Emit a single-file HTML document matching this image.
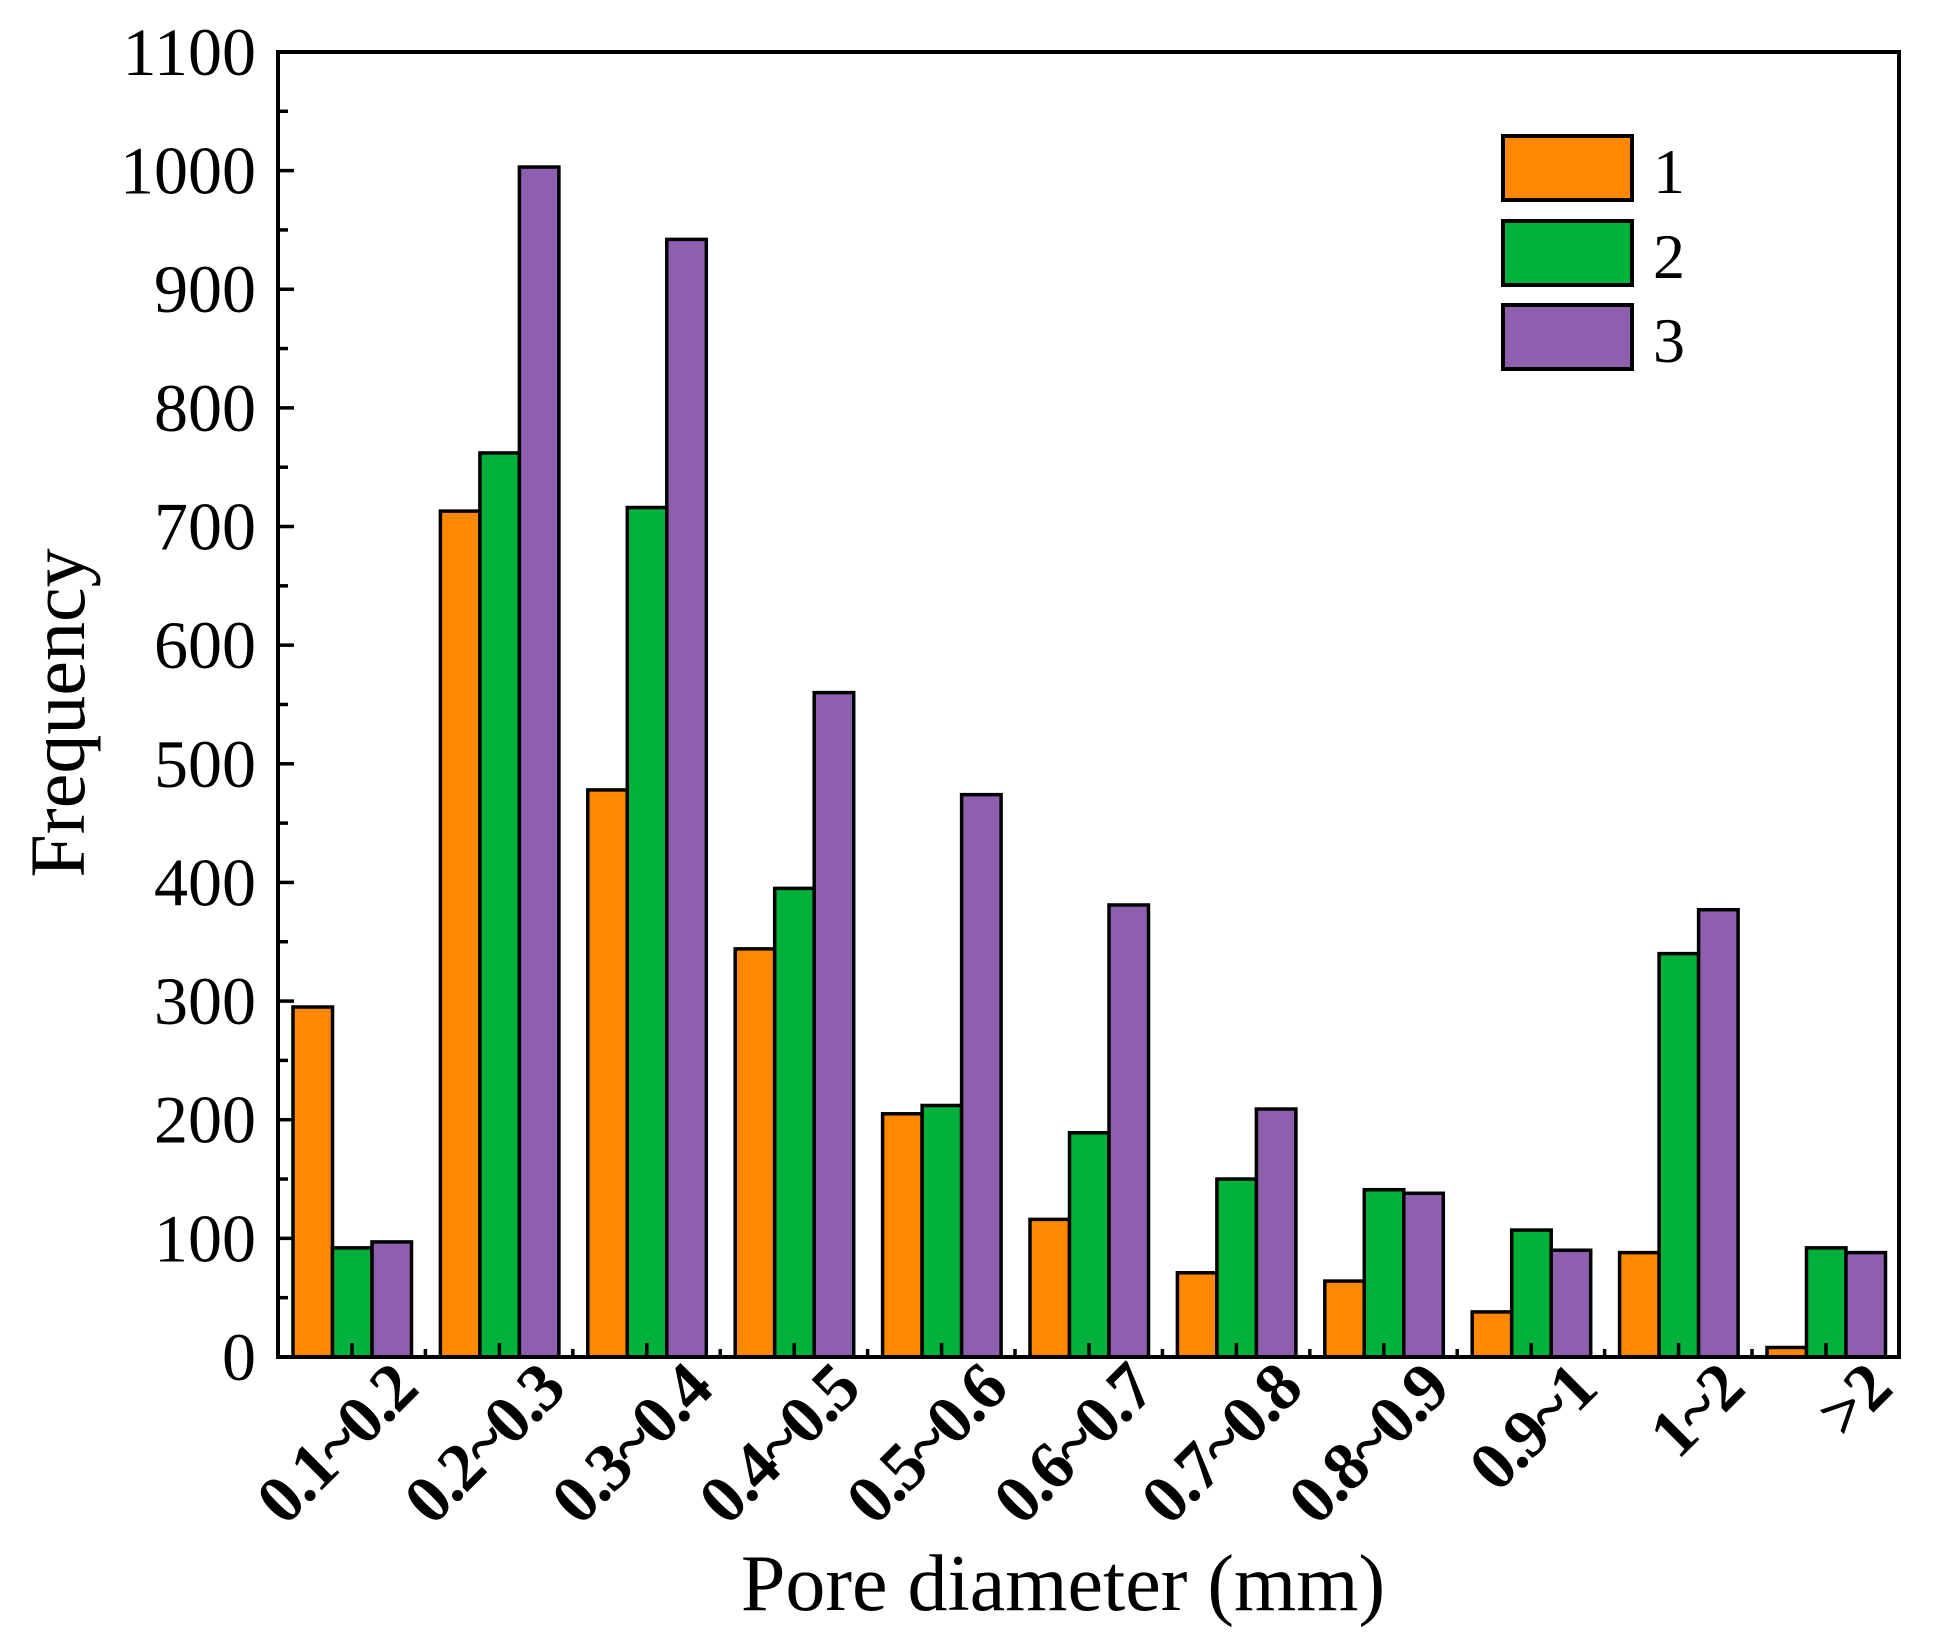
<!DOCTYPE html>
<html><head><meta charset="utf-8"><style>html,body{margin:0;padding:0;background:#fff}svg{display:block}</style></head>
<body>
<svg width="1936" height="1649" viewBox="0 0 1936 1649" xmlns="http://www.w3.org/2000/svg" font-family="'Liberation Serif',serif">
<rect width="1936" height="1649" fill="#fff"/>
<g id="bars" stroke="#000" stroke-width="3.5"></g>
<g id="ticks" stroke="#000" stroke-width="3.5"></g>
<rect x="278" y="52" width="1621" height="1305" fill="none" stroke="#000" stroke-width="4"/>
<g id="ylab" font-size="68" text-anchor="end"></g>
<g id="xlab" font-size="68" font-weight="bold" text-anchor="end" letter-spacing="-2"></g>
<text x="0" y="0" font-size="78" text-anchor="middle" transform="translate(84,713) rotate(-90)">Frequency</text>
<text x="1063" y="1610" font-size="80" text-anchor="middle">Pore diameter (mm)</text>
<g stroke="#000" stroke-width="4">
<rect x="1503" y="136" width="129" height="64" fill="#FF8800"/>
<rect x="1503" y="221" width="129" height="64" fill="#00B23C"/>
<rect x="1503" y="305" width="129" height="64" fill="#8E5FAE"/>
</g>
<g font-size="64"><text x="1653" y="193">1</text><text x="1653" y="278">2</text><text x="1653" y="362">3</text></g>
<script>
var d=[[295,92,97],[713,762,1003],[478,716,942],[344,395,560],[205,212,474],[116,189,381],[71,150,209],[64,141,138],[38,107,90],[88,340,377],[8,92,88]];
var L=["0.1~0.2","0.2~0.3","0.3~0.4","0.4~0.5","0.5~0.6","0.6~0.7","0.7~0.8","0.8~0.9","0.9~1","1~2",">2"];
var c=["#FF8800","#00B23C","#8E5FAE"],ns="http://www.w3.org/2000/svg";
function el(p,t,a,txt){var e=document.createElementNS(ns,t);for(var k in a)e.setAttribute(k,a[k]);if(txt!==undefined)e.textContent=txt;document.getElementById(p).appendChild(e);}
var X0=278,Y0=1357,S=1.1864,G=147.4;
for(var i=0;i<11;i++){for(var j=0;j<3;j++){var h=d[i][j]*S;el("bars","rect",{x:X0+15+G*i+39.5*j,y:Y0-h,width:39.5,height:h,fill:c[j]});}
var cx=X0+15+G*i+59;el("ticks","line",{x1:cx,x2:cx,y1:Y0,y2:Y0-14});
el("ticks","line",{x1:X0+G*i,x2:X0+G*i,y1:Y0,y2:Y0-8});
el("xlab","text",{x:0,y:0,transform:"translate("+(cx+68)+",1392) rotate(-45)"},L[i]);}
for(var v=0;v<=1100;v+=50){var y=Y0-v*S;el("ticks","line",{x1:X0,x2:X0+(v%100?10:16),y1:y,y2:y});
if(v%100==0)el("ylab","text",{x:256,y:y+23},v);}
</script>
</svg>
</body></html>
